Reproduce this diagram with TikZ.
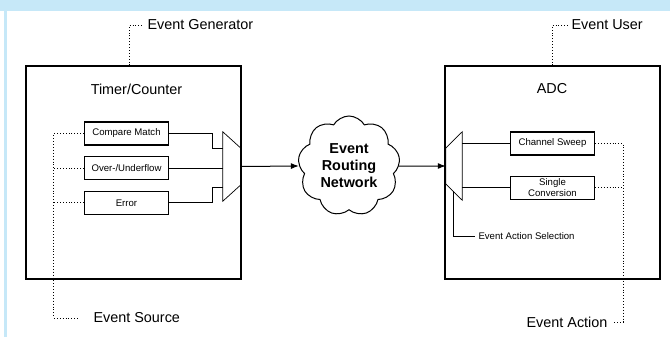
\documentclass[tikz,border=0pt]{standalone}
\usepackage{fontspec}
\setmainfont{Liberation Sans}
\usetikzlibrary{arrows.meta,positioning,calc,shapes.symbols}
\definecolor{FrameBlue}{HTML}{C6E8F8}

\begin{document}
\begin{tikzpicture}[
  x=1pt, y=-1pt,
  node distance=10.5pt,
  unit/.style={
    draw,
    line width=1.3pt,
    minimum width=215pt,
    minimum height=213pt
  },
  title/.style={font=\fontsize{14.4}{16}\selectfont},
  small/.style={font=\fontsize{9.6}{11}\selectfont},
  evbox/.style={
    small,
    draw,
    line width=1.2pt,
    align=center,
    inner sep=1pt,
    minimum width=84pt,
    minimum height=23pt
  },
  mux/.style={inner sep=0pt, minimum width=18pt, minimum height=69pt},
  wire/.style={line width=1pt},
  thinwire/.style={line width=0.7pt},
  flow/.style={-{Latex[length=8pt,width=6pt]},line width=1pt},
  dotline/.style={dotted,line width=0.9pt}
]
  \useasboundingbox (0,0) rectangle (670,337);
  \fill[FrameBlue] (0,0) rectangle (670,11);
  \fill[FrameBlue] (4,11) rectangle (7,337);

  \node[unit] (tc) at (133.5,172.5) {};
  \node[title] (tctitle) at (136.5,89) {Timer/Counter};
  \node[evbox] (cmp) at (126.5,133.5) {Compare Match};
  \node[evbox, below=of cmp] (ovf) {Over-/Underflow};
  \node[evbox, below=of ovf] (err) {Error};
  \node[mux] (tmux) at (232,166.5) {};

  \node[cloud, draw, line width=1pt, cloud puffs=9, cloud puff arc=120, aspect=1,
    inner sep=0pt, minimum width=102pt, minimum height=100pt, align=center,
    font=\fontsize{14.4}{17}\selectfont\bfseries] (net) at (349,166) {Event\\Routing\\Network};

  \node[unit] (adc) at (552.5,172.5) {};
  \node[title] (adctitle) at (552,89) {ADC};
  \node[mux, minimum width=16pt, minimum height=68pt] (amux) at (454,166) {};
  \node[evbox] (sweep) at (552.5,143.5) {Channel Sweep};
  \node[evbox, below=20pt of sweep] (single) {Single\\Conversion};
  \node[small, anchor=west] (sel) at (475,236) {Event Action Selection};

  \node[title, anchor=west] (gen) at (144,25) {Event Generator};
  \node[title, anchor=west] (user) at (568,25) {Event User};
  \node[title, anchor=west] (src) at (90,318) {Event Source};
  \node[title, anchor=east] (act) at (611,322) {Event Action};

  \draw[thinwire] (tmux.north west) -- ($(tmux.east)+(0,-18)$) -- ($(tmux.east)+(0,18)$) -- (tmux.south west) -- cycle;
  \draw[thinwire] (amux.north east) -- ($(amux.west)+(0,-18)$) -- ($(amux.west)+(0,18)$) -- (amux.south east) -- cycle;

  \draw[wire] (cmp.east) -- ++(43,0) |- ($(tmux.west)+(0,-18)$);
  \draw[thinwire] (ovf.east) -- (ovf.east -| tmux.west);
  \draw[wire] (err.east) -- ++(43,0) |- ($(tmux.west)+(0,21)$);
  \draw[flow] (tmux.east) -- (net.west);
  \draw[flow] (net.east) -- (amux.west);
  \draw[thinwire] (sweep.west -| amux.east) -- (sweep.west);
  \draw[thinwire] (single.west -| amux.east) -- (single.west);
  \draw[thinwire] ($(amux.south)+(-1,-9)$) |- (sel.west);

  \draw[dotline] (tc.north west) ++(104,0) |- (gen.west);
  \draw[dotline] (adc.north west) ++(108,0) |- (user.west);
  \draw[dotline] (cmp.west) -- ++(-30,0) |- ([xshift=-12pt]src.west);
  \draw[dotline] (ovf.west) -- ++(-30,0);
  \draw[dotline] (err.west) -- ++(-30,0);
  \draw[dotline] (sweep.east) -- ++(28,0) |- ([xshift=3pt]act.east);
  \draw[dotline] (single.east) -- ++(28,0);
\end{tikzpicture}
\end{document}
